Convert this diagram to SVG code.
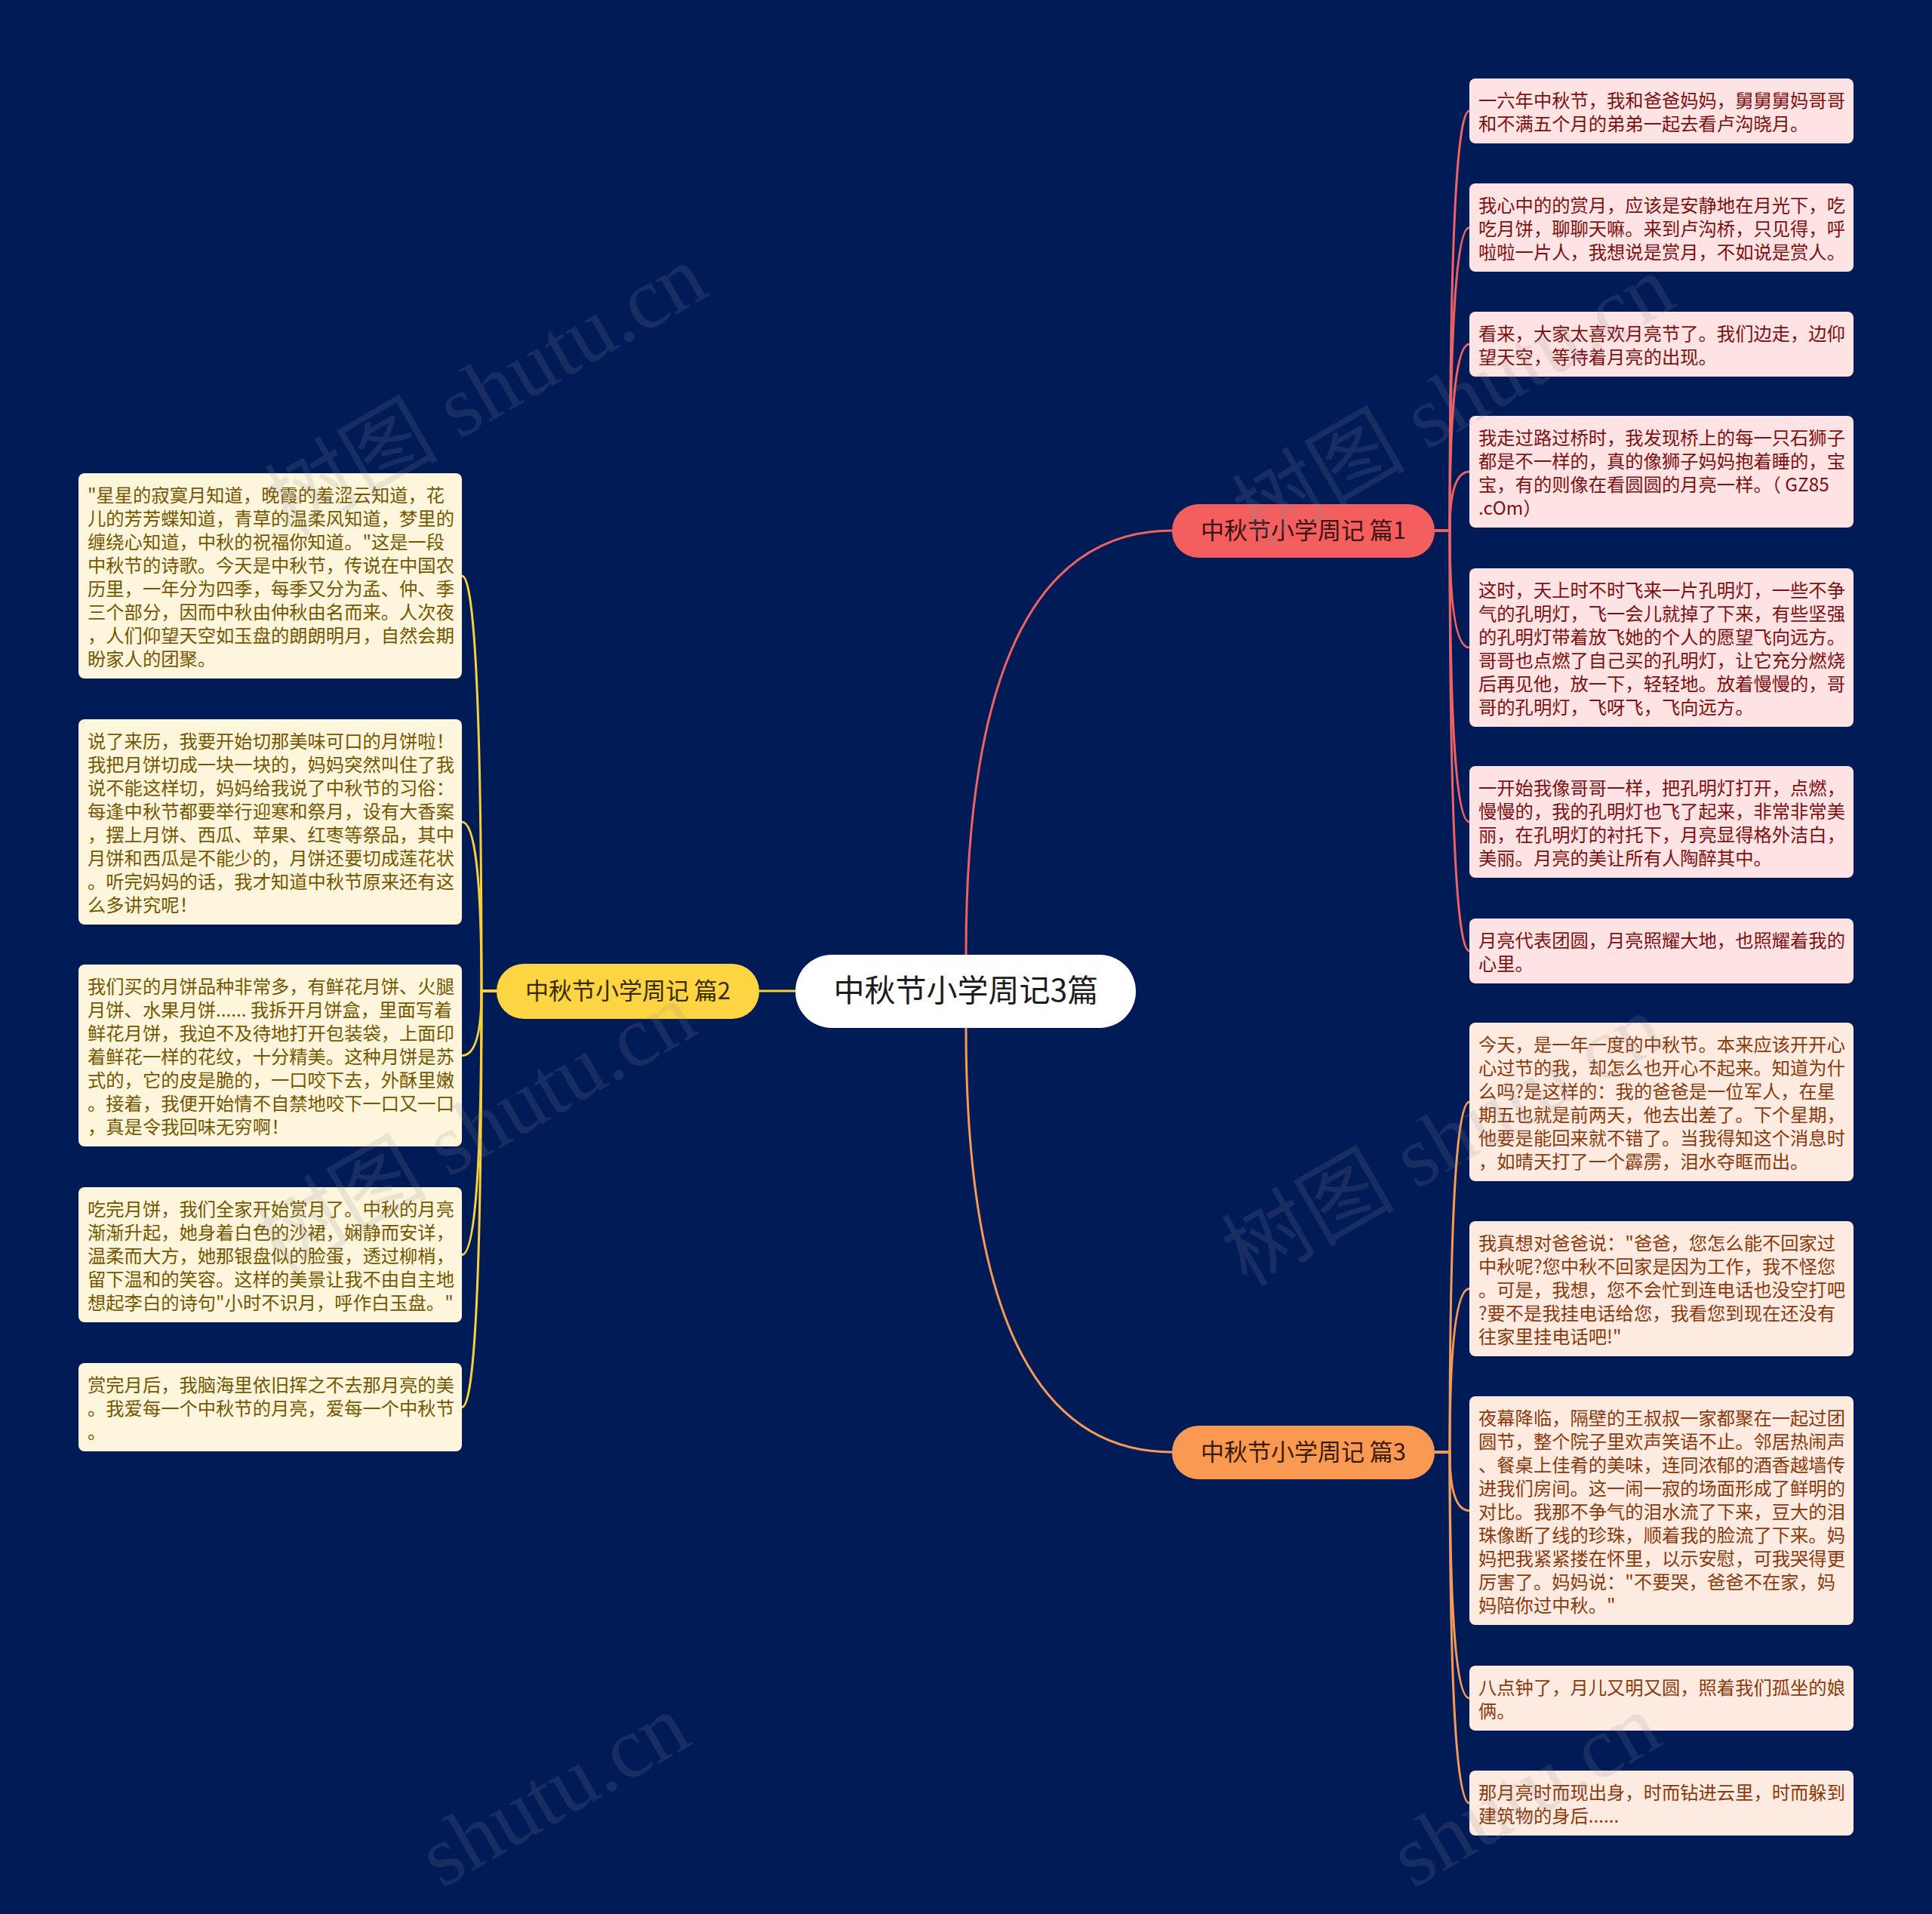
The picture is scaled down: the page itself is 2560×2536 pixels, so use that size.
<svg xmlns="http://www.w3.org/2000/svg" width="2560" height="2536" viewBox="0 0 2560 2536">
<style>
text{font-family:"Noto Sans CJK SC","Liberation Sans",sans-serif}
.t{font-size:24.3px}
.p1{fill:#fde3e3}.tp1{fill:#7d1010}
.p2{fill:#fdf6dc}.tp2{fill:#765700}
.p3{fill:#fdebe1}.tp3{fill:#8a3a0c}
.c1{stroke:#f06262;stroke-width:3;fill:none}
.c2{stroke:#f7d13c;stroke-width:3;fill:none}
.c3{stroke:#f79a55;stroke-width:3;fill:none}
.wm{font-family:"Liberation Serif","Noto Sans CJK SC",serif;font-size:115px;fill:#8a8f9c;opacity:.17}
</style>
<rect width="2560" height="2536" fill="#011b56"/>
<g id="connectors">
<path class="c1" d="M1280,1265 Q1280,703 1553,703"/>
<path class="c2" d="M1054,1313 H1006"/>
<path class="c3" d="M1280,1362 Q1280,1924 1553,1924"/>
<path class="c1" d="M1901,703 H1921 Q1921,147 1947,147"/>
<path class="c1" d="M1901,703 H1921 Q1921,301.5 1947,301.5"/>
<path class="c1" d="M1901,703 H1921 Q1921,456 1947,456"/>
<path class="c1" d="M1901,703 H1921 Q1921,625 1947,625"/>
<path class="c1" d="M1901,703 H1921 Q1921,858 1947,858"/>
<path class="c1" d="M1901,703 H1921 Q1921,1089 1947,1089"/>
<path class="c1" d="M1901,703 H1921 Q1921,1260 1947,1260"/>
<path class="c3" d="M1901,1924 H1921 Q1921,1460 1947,1460"/>
<path class="c3" d="M1901,1924 H1921 Q1921,1707.5 1947,1707.5"/>
<path class="c3" d="M1901,1924 H1921 Q1921,2001.5 1947,2001.5"/>
<path class="c3" d="M1901,1924 H1921 Q1921,2250 1947,2250"/>
<path class="c3" d="M1901,1924 H1921 Q1921,2389 1947,2389"/>
<path class="c2" d="M658,1313 H638 Q638,763 612,763"/>
<path class="c2" d="M658,1313 H638 Q638,1089 612,1089"/>
<path class="c2" d="M658,1313 H638 Q638,1398.5 612,1398.5"/>
<path class="c2" d="M658,1313 H638 Q638,1662.5 612,1662.5"/>
<path class="c2" d="M658,1313 H638 Q638,1864.5 612,1864.5"/>
</g>
<g id="root">
<rect x="1054" y="1265" width="451" height="97" rx="48" fill="#ffffff"/>
<text x="1280" y="1327" font-size="41" text-anchor="middle" fill="#1c1c1c">中秋节小学周记3篇</text>
</g>
<g id="b1">
<rect x="1553" y="668" width="348" height="71" rx="35" fill="#f45e5e"/>
<text x="1727" y="714" font-size="31" text-anchor="middle" fill="#3a1212">中秋节小学周记 篇1</text>
</g>
<g id="b2">
<rect x="658" y="1277" width="348" height="73" rx="36" fill="#fdd542"/>
<text x="832" y="1324" font-size="31" text-anchor="middle" fill="#3a2a00">中秋节小学周记 篇2</text>
</g>
<g id="b3">
<rect x="1553" y="1889" width="348" height="71" rx="35" fill="#fa9a52"/>
<text x="1727" y="1935" font-size="31" text-anchor="middle" fill="#3a1a06">中秋节小学周记 篇3</text>
</g>
<g id="r1">
<rect class="p1" x="1947" y="104" width="509" height="86" rx="8"/>
<text class="t tp1"><tspan x="1959" y="142">一六年中秋节，我和爸爸妈妈，舅舅舅妈哥哥</tspan><tspan x="1959" y="173">和不满五个月的弟弟一起去看卢沟晓月。</tspan></text>
</g>
<g id="r2">
<rect class="p1" x="1947" y="243" width="509" height="117" rx="8"/>
<text class="t tp1"><tspan x="1959" y="281">我心中的的赏月，应该是安静地在月光下，吃</tspan><tspan x="1959" y="312">吃月饼，聊聊天嘛。来到卢沟桥，只见得，呼</tspan><tspan x="1959" y="343">啦啦一片人，我想说是赏月，不如说是赏人。</tspan></text>
</g>
<g id="r3">
<rect class="p1" x="1947" y="413" width="509" height="86" rx="8"/>
<text class="t tp1"><tspan x="1959" y="451">看来，大家太喜欢月亮节了。我们边走，边仰</tspan><tspan x="1959" y="482">望天空，等待着月亮的出现。</tspan></text>
</g>
<g id="r4">
<rect class="p1" x="1947" y="551" width="509" height="148" rx="8"/>
<text class="t tp1"><tspan x="1959" y="589">我走过路过桥时，我发现桥上的每一只石狮子</tspan><tspan x="1959" y="620">都是不一样的，真的像狮子妈妈抱着睡的，宝</tspan><tspan x="1959" y="651">宝，有的则像在看圆圆的月亮一样。（ GZ85</tspan><tspan x="1959" y="682">.cOm）</tspan></text>
</g>
<g id="r5">
<rect class="p1" x="1947" y="753" width="509" height="210" rx="8"/>
<text class="t tp1"><tspan x="1959" y="791">这时，天上时不时飞来一片孔明灯，一些不争</tspan><tspan x="1959" y="822">气的孔明灯，飞一会儿就掉了下来，有些坚强</tspan><tspan x="1959" y="853">的孔明灯带着放飞她的个人的愿望飞向远方。</tspan><tspan x="1959" y="884">哥哥也点燃了自己买的孔明灯，让它充分燃烧</tspan><tspan x="1959" y="915">后再见他，放一下，轻轻地。放着慢慢的，哥</tspan><tspan x="1959" y="946">哥的孔明灯，飞呀飞，飞向远方。</tspan></text>
</g>
<g id="r6">
<rect class="p1" x="1947" y="1015" width="509" height="148" rx="8"/>
<text class="t tp1"><tspan x="1959" y="1053">一开始我像哥哥一样，把孔明灯打开，点燃，</tspan><tspan x="1959" y="1084">慢慢的，我的孔明灯也飞了起来，非常非常美</tspan><tspan x="1959" y="1115">丽，在孔明灯的衬托下，月亮显得格外洁白，</tspan><tspan x="1959" y="1146">美丽。月亮的美让所有人陶醉其中。</tspan></text>
</g>
<g id="r7">
<rect class="p1" x="1947" y="1217" width="509" height="86" rx="8"/>
<text class="t tp1"><tspan x="1959" y="1255">月亮代表团圆，月亮照耀大地，也照耀着我的</tspan><tspan x="1959" y="1286">心里。</tspan></text>
</g>
<g id="r8">
<rect class="p3" x="1947" y="1355" width="509" height="210" rx="8"/>
<text class="t tp3"><tspan x="1959" y="1393">今天，是一年一度的中秋节。本来应该开开心</tspan><tspan x="1959" y="1424">心过节的我，却怎么也开心不起来。知道为什</tspan><tspan x="1959" y="1455">么吗?是这样的：我的爸爸是一位军人，在星</tspan><tspan x="1959" y="1486">期五也就是前两天，他去出差了。下个星期，</tspan><tspan x="1959" y="1517">他要是能回来就不错了。当我得知这个消息时</tspan><tspan x="1959" y="1548">，如晴天打了一个霹雳，泪水夺眶而出。</tspan></text>
</g>
<g id="r9">
<rect class="p3" x="1947" y="1618" width="509" height="179" rx="8"/>
<text class="t tp3"><tspan x="1959" y="1656">我真想对爸爸说："爸爸，您怎么能不回家过</tspan><tspan x="1959" y="1687">中秋呢?您中秋不回家是因为工作，我不怪您</tspan><tspan x="1959" y="1718">。可是，我想，您不会忙到连电话也没空打吧</tspan><tspan x="1959" y="1749">?要不是我挂电话给您，我看您到现在还没有</tspan><tspan x="1959" y="1780">往家里挂电话吧!"</tspan></text>
</g>
<g id="r10">
<rect class="p3" x="1947" y="1850" width="509" height="303" rx="8"/>
<text class="t tp3"><tspan x="1959" y="1888">夜幕降临，隔壁的王叔叔一家都聚在一起过团</tspan><tspan x="1959" y="1919">圆节，整个院子里欢声笑语不止。邻居热闹声</tspan><tspan x="1959" y="1950">、餐桌上佳肴的美味，连同浓郁的酒香越墙传</tspan><tspan x="1959" y="1981">进我们房间。这一闹一寂的场面形成了鲜明的</tspan><tspan x="1959" y="2012">对比。我那不争气的泪水流了下来，豆大的泪</tspan><tspan x="1959" y="2043">珠像断了线的珍珠，顺着我的脸流了下来。妈</tspan><tspan x="1959" y="2074">妈把我紧紧搂在怀里，以示安慰，可我哭得更</tspan><tspan x="1959" y="2105">厉害了。妈妈说："不要哭，爸爸不在家，妈</tspan><tspan x="1959" y="2136">妈陪你过中秋。"</tspan></text>
</g>
<g id="r11">
<rect class="p3" x="1947" y="2207" width="509" height="86" rx="8"/>
<text class="t tp3"><tspan x="1959" y="2245">八点钟了，月儿又明又圆，照着我们孤坐的娘</tspan><tspan x="1959" y="2276">俩。</tspan></text>
</g>
<g id="r12">
<rect class="p3" x="1947" y="2346" width="509" height="86" rx="8"/>
<text class="t tp3"><tspan x="1959" y="2384">那月亮时而现出身，时而钻进云里，时而躲到</tspan><tspan x="1959" y="2415">建筑物的身后......</tspan></text>
</g>
<g id="l1">
<rect class="p2" x="104" y="627" width="508" height="272" rx="8"/>
<text class="t tp2"><tspan x="116" y="665">"星星的寂寞月知道，晚霞的羞涩云知道，花</tspan><tspan x="116" y="696">儿的芳芳蝶知道，青草的温柔风知道，梦里的</tspan><tspan x="116" y="727">缠绕心知道，中秋的祝福你知道。"这是一段</tspan><tspan x="116" y="758">中秋节的诗歌。今天是中秋节，传说在中国农</tspan><tspan x="116" y="789">历里，一年分为四季，每季又分为孟、仲、季</tspan><tspan x="116" y="820">三个部分，因而中秋由仲秋由名而来。人次夜</tspan><tspan x="116" y="851">，人们仰望天空如玉盘的朗朗明月，自然会期</tspan><tspan x="116" y="882">盼家人的团聚。</tspan></text>
</g>
<g id="l2">
<rect class="p2" x="104" y="953" width="508" height="272" rx="8"/>
<text class="t tp2"><tspan x="116" y="991">说了来历，我要开始切那美味可口的月饼啦！</tspan><tspan x="116" y="1022">我把月饼切成一块一块的，妈妈突然叫住了我</tspan><tspan x="116" y="1053">说不能这样切，妈妈给我说了中秋节的习俗：</tspan><tspan x="116" y="1084">每逢中秋节都要举行迎寒和祭月，设有大香案</tspan><tspan x="116" y="1115">，摆上月饼、西瓜、苹果、红枣等祭品，其中</tspan><tspan x="116" y="1146">月饼和西瓜是不能少的，月饼还要切成莲花状</tspan><tspan x="116" y="1177">。听完妈妈的话，我才知道中秋节原来还有这</tspan><tspan x="116" y="1208">么多讲究呢！</tspan></text>
</g>
<g id="l3">
<rect class="p2" x="104" y="1278" width="508" height="241" rx="8"/>
<text class="t tp2"><tspan x="116" y="1316">我们买的月饼品种非常多，有鲜花月饼、火腿</tspan><tspan x="116" y="1347">月饼、水果月饼...... 我拆开月饼盒，里面写着</tspan><tspan x="116" y="1378">鲜花月饼，我迫不及待地打开包装袋，上面印</tspan><tspan x="116" y="1409">着鲜花一样的花纹，十分精美。这种月饼是苏</tspan><tspan x="116" y="1440">式的，它的皮是脆的，一口咬下去，外酥里嫩</tspan><tspan x="116" y="1471">。接着，我便开始情不自禁地咬下一口又一口</tspan><tspan x="116" y="1502">，真是令我回味无穷啊！</tspan></text>
</g>
<g id="l4">
<rect class="p2" x="104" y="1573" width="508" height="179" rx="8"/>
<text class="t tp2"><tspan x="116" y="1611">吃完月饼，我们全家开始赏月了。中秋的月亮</tspan><tspan x="116" y="1642">渐渐升起，她身着白色的沙裙，娴静而安详，</tspan><tspan x="116" y="1673">温柔而大方，她那银盘似的脸蛋，透过柳梢，</tspan><tspan x="116" y="1704">留下温和的笑容。这样的美景让我不由自主地</tspan><tspan x="116" y="1735">想起李白的诗句"小时不识月，呼作白玉盘。"</tspan></text>
</g>
<g id="l5">
<rect class="p2" x="104" y="1806" width="508" height="117" rx="8"/>
<text class="t tp2"><tspan x="116" y="1844">赏完月后，我脑海里依旧挥之不去那月亮的美</tspan><tspan x="116" y="1875">。我爱每一个中秋节的月亮，爱每一个中秋节</tspan><tspan x="116" y="1906">。</tspan></text>
</g>
<g id="watermarks">
<text class="wm" transform="translate(384,712) rotate(-30)">树图 shutu.cn</text>
<text class="wm" transform="translate(1666,726) rotate(-30)">树图 shutu.cn</text>
<text class="wm" transform="translate(370,1690) rotate(-30)">树图 shutu.cn</text>
<text class="wm" transform="translate(1652,1706) rotate(-30)">树图 shutu.cn</text>
<text class="wm" transform="translate(585,2503) rotate(-30)">shutu.cn</text>
<text class="wm" transform="translate(1872,2503) rotate(-30)">shutu.cn</text>
</g>
</svg>
